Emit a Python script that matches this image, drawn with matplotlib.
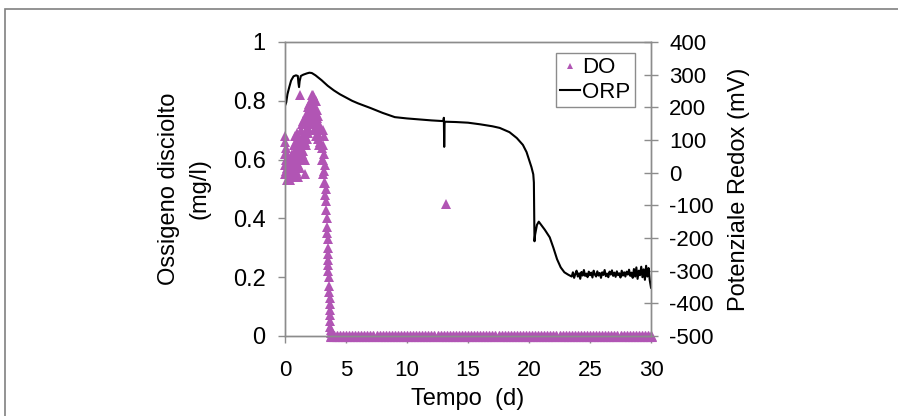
#!/usr/bin/env python3
import matplotlib
matplotlib.use("Agg")
import matplotlib.pyplot as plt
from matplotlib.patches import Rectangle
from matplotlib.lines import Line2D

plt.rcParams['font.family'] = ['Liberation Sans', 'DejaVu Sans']
plt.rcParams['axes.unicode_minus'] = False

# dissolved oxygen (mg/l) - early phase
do_t = [0.0, 0.0, 0.0, 0.0, 0.0, 0.1, 0.1, 0.1, 0.2, 0.2, 0.2, 0.3, 0.3,
        0.4, 0.4, 0.4, 0.5, 0.5, 0.6, 0.6, 0.6, 0.7, 0.7, 0.7, 0.8, 0.8, 0.8,
        0.9, 0.9, 0.9, 1.0, 1.0, 1.0, 1.0, 1.1, 1.1, 1.1, 1.2, 1.2, 1.2, 1.25,
        1.3, 1.3, 1.3, 1.4, 1.4, 1.4, 1.5, 1.5, 1.5, 1.6, 1.6, 1.6,
        1.7, 1.7, 1.7, 1.8, 1.8, 1.8, 1.9, 1.9, 1.9, 2.0, 2.0, 2.0,
        2.1, 2.1, 2.1, 2.2, 2.2, 2.2, 2.3, 2.3, 2.3, 2.4, 2.4, 2.4, 2.4,
        2.5, 2.5, 2.5, 2.5, 2.6, 2.6, 2.6, 2.7, 2.7, 2.7, 2.8, 2.8, 2.8,
        2.9, 2.9, 3.0, 3.0, 3.1, 3.1, 3.1, 3.1, 3.2, 3.2, 3.2, 3.2,
        3.3, 3.3, 3.3, 3.4, 3.4, 3.4, 3.45, 3.45, 3.45, 3.5, 3.5, 3.5,
        3.55, 3.55, 3.55, 3.6, 3.6, 3.6, 3.65, 3.65, 3.65, 3.7, 3.7, 3.7,
        3.75, 3.75, 13.2]
do_v = [0.62, 0.66, 0.58, 0.55, 0.68, 0.60, 0.64, 0.56, 0.57, 0.62, 0.53, 0.58, 0.55,
        0.56, 0.60, 0.53, 0.55, 0.59, 0.57, 0.62, 0.54, 0.60, 0.65, 0.56, 0.63, 0.68, 0.58,
        0.62, 0.66, 0.56, 0.60, 0.64, 0.55, 0.69, 0.58, 0.62, 0.54, 0.62, 0.67, 0.57, 0.82,
        0.64, 0.70, 0.60, 0.66, 0.72, 0.62, 0.68, 0.73, 0.63, 0.66, 0.60, 0.55,
        0.70, 0.74, 0.65, 0.72, 0.76, 0.67, 0.74, 0.78, 0.69, 0.75, 0.79, 0.70,
        0.77, 0.80, 0.72, 0.78, 0.82, 0.73, 0.79, 0.82, 0.75, 0.78, 0.81, 0.74, 0.70,
        0.76, 0.80, 0.72, 0.68, 0.77, 0.74, 0.70, 0.75, 0.71, 0.67, 0.72, 0.68, 0.65,
        0.70, 0.66, 0.64, 0.60, 0.70, 0.65, 0.60, 0.55, 0.68, 0.62, 0.56, 0.52,
        0.58, 0.52, 0.48, 0.50, 0.46, 0.43, 0.40, 0.37, 0.35, 0.33, 0.30, 0.28,
        0.26, 0.24, 0.22, 0.20, 0.17, 0.15, 0.13, 0.11, 0.09, 0.07, 0.05, 0.03,
        0.02, 0.01, 0.45]

# dissolved oxygen stays at zero after day 3.8
do_zero_t = [3.8, 4.0, 4.25, 4.5, 4.75, 5.0, 5.25, 5.5, 5.75, 6.0, 6.25, 6.5, 6.75,
             7.0, 7.25, 7.5, 7.75, 8.0, 8.25, 8.5, 8.75, 9.0, 9.25, 9.5, 9.75,
             10.0, 10.25, 10.5, 10.75, 11.0, 11.25, 11.5, 11.75, 12.0, 12.25, 12.5, 12.75,
             13.0, 13.25, 13.5, 13.75, 14.0, 14.25, 14.5, 14.75, 15.0, 15.25, 15.5, 15.75,
             16.0, 16.25, 16.5, 16.75, 17.0, 17.25, 17.5, 17.75, 18.0, 18.25, 18.5, 18.75,
             19.0, 19.25, 19.5, 19.75, 20.0, 20.25, 20.5, 20.75, 21.0, 21.25, 21.5, 21.75,
             22.0, 22.25, 22.5, 22.75, 23.0, 23.25, 23.5, 23.75, 24.0, 24.25, 24.5, 24.75,
             25.0, 25.25, 25.5, 25.75, 26.0, 26.25, 26.5, 26.75, 27.0, 27.25, 27.5, 27.75,
             28.0, 28.25, 28.5, 28.75, 29.0, 29.25, 29.5, 29.75, 30.0]

# redox potential (mV)
orp_t = [0.0, 0.1, 0.2, 0.35, 0.5, 0.7, 0.9, 1.05, 1.1, 1.15, 1.2, 1.3, 1.5, 1.8,
         2.0, 2.2, 2.5, 3.0, 3.5, 4.0, 4.5, 5.0, 5.5, 6.0, 7.0, 8.0, 9.0, 10.0,
         11.0, 12.0, 12.9, 13.0, 13.02, 13.05, 13.08, 13.1, 14.0, 15.0, 16.0, 17.0,
         17.6, 18.4, 19.0, 19.5, 19.8, 20.0, 20.2, 20.35, 20.4, 20.45, 20.5, 20.65,
         20.8, 21.0, 21.3, 21.7, 22.0, 22.3, 22.6, 22.9, 23.2,
         23.5, 23.6, 23.7, 23.8, 23.9, 24.0, 24.1, 24.2, 24.3, 24.4, 24.5, 24.6,
         24.7, 24.8, 24.9, 25.0, 25.1, 25.2, 25.3, 25.4, 25.5, 25.6, 25.7, 25.8,
         25.9, 26.0, 26.1, 26.2, 26.3, 26.4, 26.5, 26.6, 26.7, 26.8, 26.9, 27.0,
         27.1, 27.2, 27.3, 27.4, 27.5, 27.6, 27.7, 27.8, 27.9, 28.0, 28.1, 28.2,
         28.3, 28.4, 28.5, 28.6, 28.7, 28.8, 28.9, 29.0, 29.1, 29.2, 29.3, 29.4,
         29.5, 29.6, 29.7, 29.8, 29.9, 30.0]
orp_mv = [205, 215, 240, 262, 282, 295, 298, 296, 275, 262, 280, 296, 300, 304,
          306, 305, 298, 283, 266, 252, 240, 230, 220, 212, 198, 183, 170, 166,
          163, 160, 158, 160, 168, 79, 150, 156, 155, 153, 148, 142,
          137, 124, 106, 85, 63, 40, 17, -5, -30, -210, -190, -160,
          -150, -160, -175, -198, -230, -265, -290, -305, -312,
          -318, -305, -322, -310, -300, -318, -308, -325, -304, -315, -298, -316,
          -309, -320, -303, -314, -306, -321, -300, -312, -318, -302, -315, -307,
          -322, -305, -313, -298, -317, -309, -320, -303, -312, -299, -316, -306,
          -319, -302, -314, -308, -321, -300, -315, -305, -318, -303, -312, -297,
          -316, -306, -322, -295, -318, -290, -325, -300, -314, -288, -320, -296,
          -328, -285, -318, -292, -330, -352]

x_ticks = [0, 5, 10, 15, 20, 25, 30]
do_ticks = [0, 0.2, 0.4, 0.6, 0.8, 1]
do_tick_labels = ['0', '0.2', '0.4', '0.6', '0.8', '1']
orp_ticks = [-500, -400, -300, -200, -100, 0, 100, 200, 300, 400]

purple = '#b155b4'
axis_grey = '#8c8c8c'

fig = plt.figure(figsize=(8.98, 4.16), dpi=100)
ax = fig.add_axes([285 / 898, 1 - 336 / 416, 366 / 898, 294 / 416])
ax2 = ax.twinx()

# outer frame of the figure
fig.patches.append(Rectangle((5 / 898, -0.1), 1.2, 1.1 - 9 / 416,
                             transform=fig.transFigure, fill=False,
                             edgecolor='#808080', linewidth=1.2))

ax.plot(do_t, do_v, linestyle='none', marker='^', markersize=7,
        color=purple, markeredgewidth=0, clip_on=False)
ax.plot(do_zero_t, [0] * len(do_zero_t), linestyle='none', marker='^', markersize=7,
        color=purple, markeredgewidth=0.8, clip_on=False)
ax2.plot(orp_t, orp_mv, color='black', linewidth=1.5)

ax.set_xlim(0, 30)
ax.set_ylim(0, 1)
ax2.set_ylim(-500, 400)
ax.set_xticks(x_ticks)
ax.set_yticks(do_ticks)
ax.set_yticklabels(do_tick_labels)
ax2.set_yticks(orp_ticks)

for a in [ax, ax2]:
    for s in ['top', 'bottom', 'left', 'right']:
        a.spines[s].set_color(axis_grey)
        a.spines[s].set_linewidth(1.0)

ax.tick_params(axis='x', direction='out', length=5, width=1, color=axis_grey,
               labelsize=16, pad=12)
ax.tick_params(axis='y', direction='out', length=5, width=1, color=axis_grey,
               labelsize=17, pad=9)
ax2.tick_params(axis='y', direction='inout', length=10, width=1, color=axis_grey,
                labelsize=16, pad=8)

ax.set_xlabel('Tempo  (d)', fontsize=17, labelpad=5)
ax.set_ylabel('Ossigeno disciolto\n(mg/l)', fontsize=17, labelpad=16, linespacing=1.5)
ax2.set_ylabel('Potenziale Redox (mV)', fontsize=17, labelpad=10)

handles = [Line2D([], [], linestyle='none', marker='^', markersize=5,
                  color=purple, markeredgewidth=0),
           Line2D([], [], color='black', linewidth=1.5)]
leg = ax2.legend(handles, ['DO', 'ORP'], loc='upper right',
                 bbox_to_anchor=(0.956, 0.963), fontsize=16, frameon=True,
                 fancybox=False, framealpha=1, edgecolor=axis_grey,
                 handlelength=0.9, handletextpad=0.1, borderpad=0.2,
                 labelspacing=0.15, borderaxespad=0)
leg.get_frame().set_linewidth(1.0)

fig.savefig('out.png', dpi=100)
